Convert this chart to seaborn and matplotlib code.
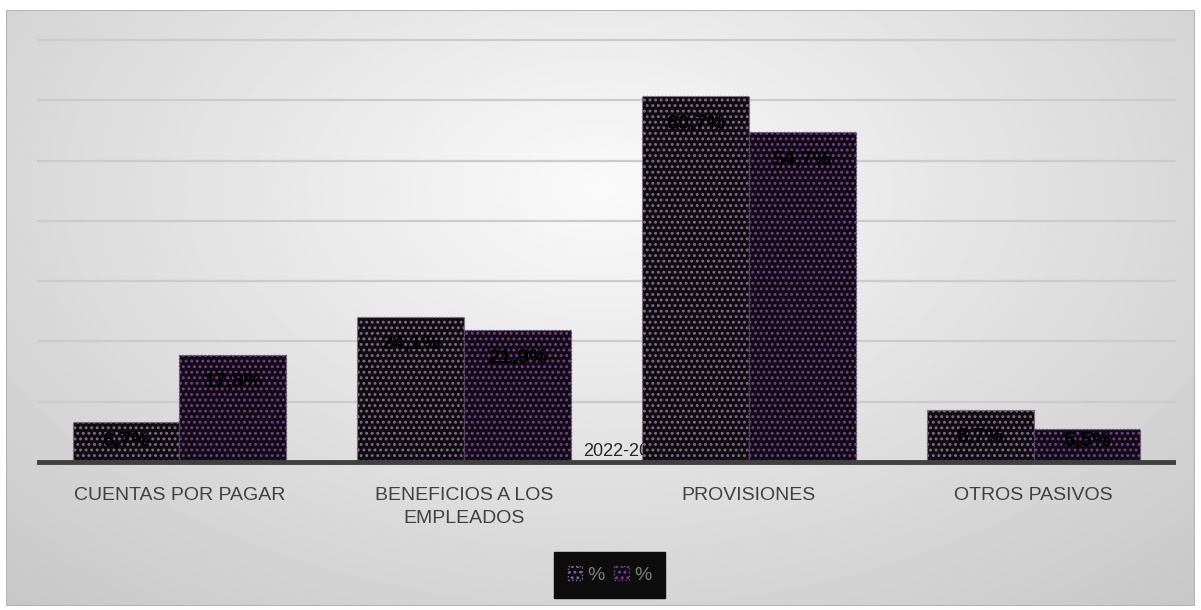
import numpy as np
import pandas as pd
import seaborn as sns
import matplotlib.pyplot as plt
from matplotlib.patches import Rectangle

# data
categorias = ["CUENTAS POR PAGAR", "BENEFICIOS A LOS\nEMPLEADOS", "PROVISIONES", "OTROS PASIVOS"]
serie_1 = [6.7, 24.1, 60.7, 8.7]
serie_2 = [17.8, 21.9, 54.7, 5.5]
series = ["serie 1", "serie 2"]
leyenda = ["%", "%"]
titulo_eje = "2022-2023"

df = pd.DataFrame({
    "categoria": categorias * 2,
    "valor": serie_1 + serie_2,
    "serie": [series[0]] * 4 + [series[1]] * 4,
})

sns.set_style("white")
plt.rcParams["font.family"] = ["Liberation Sans", "DejaVu Sans"]
plt.rcParams["hatch.linewidth"] = 1.3

W, H = 1201, 610
fig = plt.figure(figsize=(W / 100, H / 100), dpi=100)
fig.patch.set_facecolor("white")

# background: radial grey gradient inside a thin border
bg = fig.add_axes([6 / W, 4 / H, 1189 / W, 596 / H])
yy, xx = np.mgrid[0:1:300j, 0:1:600j]
r = np.sqrt(((xx - 0.5) / 0.75) ** 2 + ((yy - 0.3) / 0.95) ** 2)
grad = np.clip(0.98 - 0.2 * r, 0.78, 1.0)
bg.imshow(grad, cmap="gray", vmin=0, vmax=1, aspect="auto", extent=[0, 1, 1, 0])
bg.set_xlim(0, 1)
bg.set_ylim(1, 0)
bg.axis("off")
bg.add_patch(Rectangle((0, 0), 1, 1, transform=bg.transAxes, fill=False,
                       edgecolor="#b4b4b4", lw=1.5))

# main axes
ppu = (462 - 40) / 70
bottom_px = 465
top_px = 462 - 71 * ppu
ax = fig.add_axes([37 / W, 1 - bottom_px / H, (1176 - 37) / W, (bottom_px - top_px) / H])
ax.patch.set_alpha(0)

sns.barplot(data=df, x="categoria", y="valor", hue="serie", width=0.75,
            palette=["#100b12", "#120b16"], saturation=1, legend=False, ax=ax, zorder=3)

hatch_cols = ["#7e7082", "#6e4486"]
for cont, hc in zip(ax.containers, hatch_cols):
    for p in cont:
        p.set_hatch("...")
        p.set_edgecolor(hc)
        p.set_linewidth(1.0)
        p.set_linestyle(":")

ax.set_ylim(-0.5, 71)
ax.set_yticks(range(10, 80, 10))
ax.set_yticklabels([])
ax.yaxis.grid(True, color="#cbcbcb", lw=1.6)
ax.xaxis.grid(False)
ax.set_axisbelow(True)
ax.axhline(0, color="#404040", lw=3.5, zorder=4)
for s in ax.spines.values():
    s.set_visible(False)
ax.tick_params(left=False, bottom=False, axis="x", pad=12, labelsize=14, labelcolor="#404040")
for t in ax.get_xticklabels():
    t.set_linespacing(1.5)
ax.set_xlabel("")
ax.set_ylabel("")

# data labels
for cont, vals in zip(ax.containers, [serie_1, serie_2]):
    for p, v in zip(cont, vals):
        x = p.get_x() + p.get_width() / 2
        y = max(v - 4.5, 3.6)
        ax.text(x, y, f"{v:.1f}%".replace(".", ","), ha="center", va="center",
                fontsize=15, fontweight="bold", color="black", zorder=5)

# axis title partly hidden behind the bars
ax.text((583 - 37) / 1139, 1.66, titulo_eje, transform=ax.get_yaxis_transform(),
        ha="left", va="center", fontsize=13, color="#262626", zorder=2)

handles = [ax.containers[0][0], ax.containers[1][0]]
fig.legend(handles, leyenda, loc="center", bbox_to_anchor=(609.5 / W, 1 - 575 / H), ncol=2,
           facecolor="#0d0d0d", edgecolor="#0d0d0d", framealpha=1, fancybox=False,
           labelcolor="#7f7f7f", fontsize=14, handlelength=0.75, handleheight=0.75,
           handletextpad=0.25, columnspacing=0.5, borderpad=0.7, borderaxespad=0)

fig.savefig("out.png", dpi=100)
